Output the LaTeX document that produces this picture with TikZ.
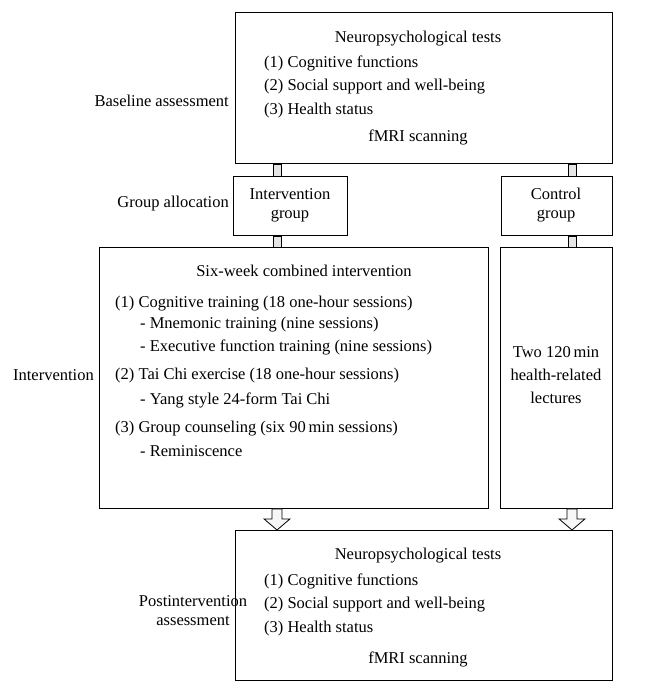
\documentclass[tikz,border=0pt]{standalone}
\usepackage{fontspec}
\setmainfont{Liberation Serif}
\usetikzlibrary{calc}
\begin{document}
\begin{tikzpicture}[x=1pt,y=-1pt]
    \tikzstyle{box}=[draw, line width=0.9pt, inner sep=0pt, anchor=north west]
    \tikzstyle{txt}=[inner sep=0pt, font=\fontsize{16.5}{19}\selectfont]
    \tikzstyle{item}=[txt, anchor=west]
    \tikzstyle{link}=[draw, line width=0.8pt, fill=black!10]
    \tikzstyle{blockarrow}=[draw, line width=0.8pt, fill=black!3, line join=miter]
    \useasboundingbox (0,0) rectangle (659,694);
    % boxes
    \node[box, minimum width=377pt, minimum height=151pt] (base) at (235,12) {};
    \node[box, minimum width=114pt, minimum height=59pt] (intgrp) at (233,176) {};
    \node[box, minimum width=111pt, minimum height=59pt] (ctrlgrp) at (501,176) {};
    \node[box, minimum width=389pt, minimum height=261pt] (intv) at (99,247) {};
    \node[box, minimum width=112pt, minimum height=261pt] (ctrl) at (500,247) {};
    \node[box, minimum width=377pt, minimum height=150pt] (post) at (235,530) {};
    % x positions of the connectors
    \coordinate (cL) at (277,0);
    \coordinate (cR) at (572,0);
    % connectors
    \path[link] ($(base.south -| cL)+(-4,0)$) rectangle ($(intgrp.north -| cL)+(4,0)$);
    \path[link] ($(intgrp.south -| cL)+(-4,0)$) rectangle ($(intv.north -| cL)+(4,0)$);
    \path[link] ($(base.south -| cR)+(-4,0)$) rectangle ($(ctrlgrp.north -| cR)+(4,0)$);
    \path[link] ($(ctrlgrp.south -| cR)+(-4,0)$) rectangle ($(ctrl.north -| cR)+(4,0)$);
    \foreach \src/\dst/\cx in {intv/post/cL, ctrl/post/cR}
        \path[blockarrow] (\src.south -| \cx) ++(-5,0) -- ++(0,10) -- ++(-8,0)
            -- ($(\dst.north -| \cx)$) -- ($(\src.south -| \cx)+(13,10)$)
            -- ++(-8,0) -- ++(0,-10) -- cycle;
    % stage labels
    \node[txt, anchor=east] (lbase) at (229,101) {Baseline assessment};
    \node[txt, anchor=east] (lgrp) at (229,204) {Group allocation};
    \node[txt, anchor=east] (lintv) at (94,375) {Intervention};
    \node[txt, align=center] (lpost) at (193,611) {Postintervention\\assessment};
    % baseline
    \node[txt] (bt) at (418,39) {Neuropsychological tests};
    \node[item] (b1) at (264,63) {(1) Cognitive functions};
    \node[item] (b2) at (264,87) {(2) Social support and well-being};
    \node[item] (b3) at (264,111) {(3) Health status};
    \node[txt] (bf) at (418,137) {fMRI scanning};
    % groups
    \node[txt, align=center] (ig) at (290,205) {Intervention\\group};
    \node[txt, align=center] (cg) at (556,205) {Control\\group};
    % intervention
    \node[txt] (it) at (304,271) {Six-week combined intervention};
    \node[item] (i1) at (115,304) {(1) Cognitive training (18 one-hour sessions)};
    \node[item] (i1a) at (140,325) {- Mnemonic training (nine sessions)};
    \node[item] (i1b) at (140,347) {- Executive function training (nine sessions)};
    \node[item] (i2) at (115,376) {(2) Tai Chi exercise (18 one-hour sessions)};
    \node[item] (i2a) at (140,400) {- Yang style 24-form Tai Chi};
    \node[item] (i3) at (115,429) {(3) Group counseling (six 90\,min sessions)};
    \node[item] (i3a) at (140,451) {- Reminiscence};
    % control
    \node[txt, align=center] (ct) at (556,375) {Two 120\,min\\[4pt]health-related\\[4pt]lectures};
    % postintervention
    \node[txt] (pt) at (418,556) {Neuropsychological tests};
    \node[item] (p1) at (264,581) {(1) Cognitive functions};
    \node[item] (p2) at (264,605) {(2) Social support and well-being};
    \node[item] (p3) at (264,629) {(3) Health status};
    \node[txt] (pf) at (418,659) {fMRI scanning};
\end{tikzpicture}
\end{document}
